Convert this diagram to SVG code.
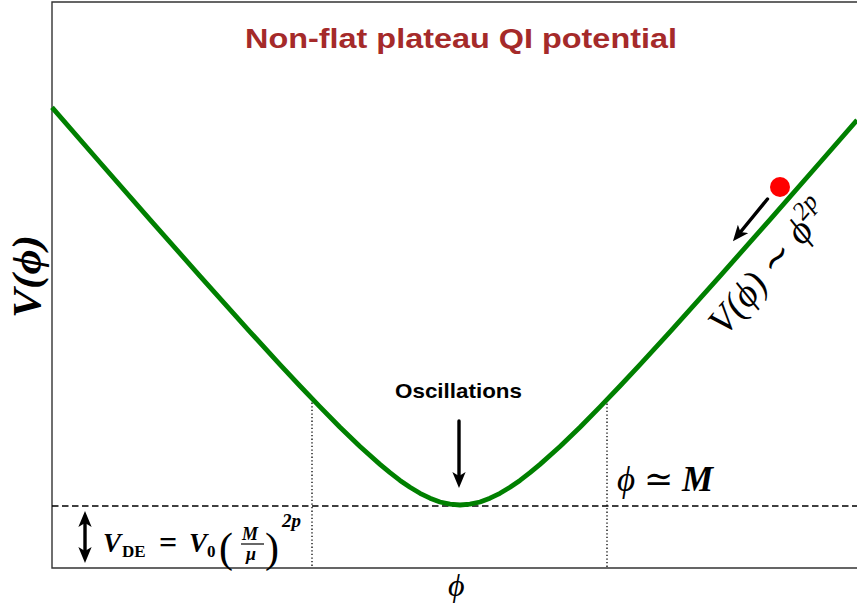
<svg xmlns="http://www.w3.org/2000/svg" width="857" height="607" viewBox="0 0 857 607">
<style>
.frame{fill:none;stroke:#333;stroke-width:1.4}
.curve{fill:none;stroke:#008000;stroke-width:4.8;stroke-linejoin:round}
.dash{fill:none;stroke:#000;stroke-width:1.4;stroke-dasharray:6.5 3.5}
.dot{fill:none;stroke:#000;stroke-width:1.3;stroke-dasharray:1.3 2.3}
.arr{fill:none;stroke:#000;stroke-width:3.4;stroke-linecap:round}
.math{font-family:"Liberation Serif","DejaVu Serif",serif;font-style:italic}
.bmath{font-family:"Liberation Serif","DejaVu Serif",serif;font-style:italic;font-weight:bold}
.rm{font-family:"Liberation Serif","DejaVu Serif",serif}
.sans{font-family:"Liberation Sans","DejaVu Sans",sans-serif;font-weight:bold}
</style>
<defs>
<marker id="head" viewBox="0 0 12 10" refX="3" refY="5" markerWidth="16" markerHeight="13.3" markerUnits="userSpaceOnUse" orient="auto-start-reverse">
<path d="M0,0 L12,5 L0,10 L3,5 z" fill="#000"/>
</marker>
</defs>
<rect width="857" height="607" fill="#fff"/>
<g id="axes">
<path class="frame" d="M857,2 H52 V568 H857"/>
</g>
<g id="guides">
<line class="dash" x1="52" y1="506" x2="857" y2="506"/>
<line class="dot" x1="312" y1="399" x2="312" y2="568"/>
<line class="dot" x1="607" y1="400" x2="607" y2="568"/>
</g>
<g id="potential">
<path class="curve" d="M52,107.4 L100,162.5 L150,219.6 L200,276.1 L250,331.8 L280,364.6 L300,386 L320,406.9 L340,427.2 L360,446.5 L380,464.4 L390,472.7 L400,480.4 L410,487.3 L420,493.3 L430,498.2 L440,502 L450,504.2 L460,505 L470,504.2 L480,502 L490,498.2 L500,493.3 L510,487.3 L520,480.4 L530,472.7 L540,464.4 L560,446.5 L580,427.2 L600,406.9 L620,386 L640,364.6 L670,331.8 L720,276.1 L770,219.6 L820,162.5 L857,120"/>
</g>
<g id="ball">
<circle cx="780" cy="187" r="10" fill="#ff0000"/>
</g>
<g id="connectors">
<line class="arr" x1="459" y1="421" x2="459" y2="476" marker-end="url(#head)"/>
<line class="arr" x1="767.5" y1="199" x2="740.5" y2="232" marker-end="url(#head)"/>
<line class="arr" x1="85" y1="523" x2="85" y2="551" marker-start="url(#head)" marker-end="url(#head)"/>
</g>
<g id="title">
<text class="sans" x="245" y="48" font-size="28" fill="#a52a2a" textLength="432" lengthAdjust="spacingAndGlyphs">Non-flat plateau QI potential</text>
</g>
<g id="oscillations">
<text class="sans" x="395" y="398" font-size="21" fill="#000" textLength="127" lengthAdjust="spacingAndGlyphs">Oscillations</text>
</g>
<g id="ylabel">
<text class="bmath" transform="translate(40,318) rotate(-90)" font-size="40" textLength="83" lengthAdjust="spacingAndGlyphs">V(ϕ)</text>
</g>
<g id="xlabel">
<text class="math" x="448" y="596" font-size="32">ϕ</text>
</g>
<g id="slope-label">
<text class="math" transform="translate(725,337) rotate(-49.5)" font-size="38">V(ϕ) ∼ ϕ<tspan dy="-16" font-size="25">2p</tspan></text>
</g>
<g id="mass-label">
<text class="math" x="617" y="491" font-size="35">ϕ ≃ <tspan font-weight="bold">M</tspan></text>
</g>
<g id="vde-label" fill="#000">
<text class="bmath" x="103" y="552" font-size="27">V</text>
<text class="rm" x="122" y="557" font-size="17" font-weight="bold">DE</text>
<text class="rm" x="159" y="553" font-size="32" font-weight="bold">=</text>
<text class="bmath" x="189" y="552" font-size="27">V</text>
<text class="rm" x="207" y="557" font-size="17" font-weight="bold">0</text>
<text class="rm" x="219" y="562" font-size="42">(</text>
<text class="bmath" x="242" y="540" font-size="18">M</text>
<line x1="241" y1="544" x2="264" y2="544" stroke="#000" stroke-width="1.2"/>
<text class="bmath" x="246" y="560" font-size="18">μ</text>
<text class="rm" x="265" y="562" font-size="42">)</text>
<text class="bmath" x="282" y="527" font-size="19">2p</text>
</g>
</svg>
